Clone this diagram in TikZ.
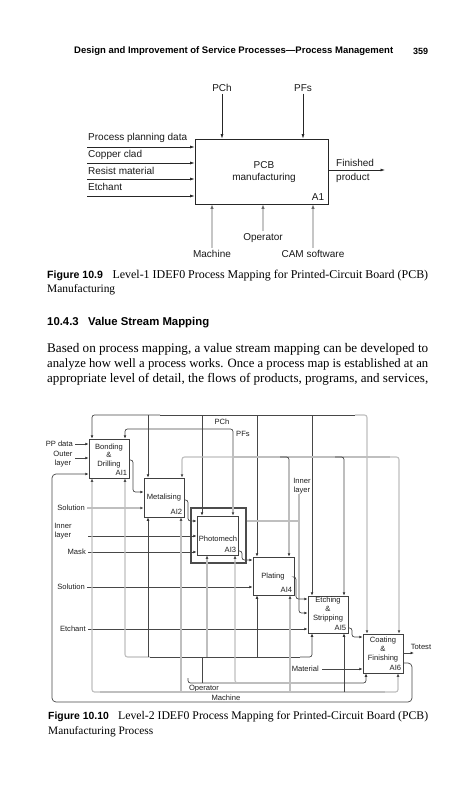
\documentclass[tikz,border=0pt]{standalone}
\usepackage{fontspec}
\usepackage{graphicx}
\setmainfont{Liberation Serif}
\setsansfont{Liberation Sans}
\usetikzlibrary{arrows.meta}
\newcommand\fitline[2]{\resizebox{#1}{!}{#2}}
\begin{document}
\begin{tikzpicture}[x=1pt,y=-1pt,
  every node/.style={inner sep=0pt},
  big/.style={font=\sffamily\fontsize{10}{11.5}\selectfont, text=black!90},
  sm/.style={font=\sffamily\fontsize{7.6}{8.8}\selectfont, text=black!88},
  arr/.style={draw=black!85, line width=0.65pt, -{Latex[length=4.5pt,width=3pt]}},
  garr/.style={draw=gray!45, line width=1.3pt, -{Latex[length=4.5pt,width=3.4pt,color=black!60]}},
  dk/.style={draw=black!72, line width=0.7pt, rounded corners=2.5pt},
  lt/.style={draw=gray!50, line width=1.1pt, rounded corners=2.5pt},
  da/.style={dk, -{Latex[length=3.4pt,width=2.8pt,color=black!80]}},
  la/.style={lt, -{Latex[length=3.4pt,width=2.8pt,color=black!70]}},
  pbox/.style={draw=black!75, line width=0.7pt, minimum width=40pt, minimum height=39pt},
]
\fill[white] (0,0) rectangle (472,800);
\useasboundingbox (0,0) rectangle (472,800);

% ---------- page header ----------
\node[anchor=west] (hdr) at (74,51) {\fitline{319pt}{\sffamily\bfseries\fontsize{9.5}{11}\selectfont Design and Improvement of Service Processes—Process Management}};
\node[anchor=west] (pgno) at (413,51) {\fitline{15pt}{\sffamily\bfseries\fontsize{9.5}{11}\selectfont 359}};

% ---------- Figure 10.9 ----------
\node[draw=black!85, line width=0.8pt, minimum width=133pt, minimum height=65pt] (A1) at (261.5,171.5) {};
\node[big, align=center] (A1t) at (264,172) {PCB\\manufacturing};
\node[big] (A1id) at (318,197) {A1};
\node[big] (pch1) at (222,88) {PCh};
\node[big] (pfs1) at (303,88) {PFs};
\draw[arr, shorten <=2pt] (pch1.south) -- (pch1.south |- A1.north);
\draw[arr, shorten <=2pt] (pfs1.south) -- (pfs1.south |- A1.north);

\coordinate (in1) at (87,147);
\coordinate (in2) at (87,163);
\coordinate (in3) at (87,179);
\coordinate (in4) at (87,196);
\node[big, anchor=west] (l1) at (88,138) {Process planning data};
\node[big, anchor=west] (l2) at (88,155) {Copper clad};
\node[big, anchor=west] (l3) at (88,171) {Resist material};
\node[big, anchor=west] (l4) at (88,187) {Etchant};
\draw[arr] (in1) -- (in1 -| A1.west);
\draw[arr] (in2) -- (in2 -| A1.west);
\draw[arr] (in3) -- (in3 -| A1.west);
\draw[arr] (in4) -- (in4 -| A1.west);

\coordinate (o1) at (385,170);
\draw[arr] (o1 -| A1.east) -- (o1);
\node[big, anchor=west] (fin) at (336,163) {Finished};
\node[big, anchor=west] (prod) at (336,178) {product};

\node[big] (mach1) at (212,254) {Machine};
\node[big] (oper1) at (263,238) {Operator};
\node[big] (cam1) at (313,254) {CAM software};
\draw[garr, shorten <=2pt] (mach1.north) -- (mach1.north |- A1.south);
\draw[garr, shorten <=2pt] (oper1.north) -- (oper1.north |- A1.south);
\draw[garr, shorten <=2pt] (cam1.north) -- (cam1.north |- A1.south);

% ---------- caption / text ----------
\node[anchor=west] (cap1a) at (47,276) {\fitline{381pt}{\sffamily\bfseries\fontsize{10}{12}\selectfont Figure 10.9\hspace{9pt}\rmfamily\mdseries\fontsize{11.3}{13}\selectfont Level-1 IDEF0 Process Mapping for Printed-Circuit Board (PCB)}};
\node[anchor=west] (cap1b) at (47,289.5) {\fitline{68pt}{\rmfamily\fontsize{11.3}{13}\selectfont Manufacturing}};

\node[anchor=west] (sec) at (47,323) {\fitline{162pt}{\sffamily\bfseries\fontsize{11}{13}\selectfont 10.4.3\hspace{9pt}Value Stream Mapping}};

\node[anchor=west] (t1) at (47,349) {\fitline{381pt}{\rmfamily\fontsize{12}{15}\selectfont Based on process mapping, a value stream mapping can be developed to}};
\node[anchor=west] (t2) at (47,364) {\fitline{381pt}{\rmfamily\fontsize{12}{15}\selectfont analyze how well a process works. Once a process map is established at an}};
\node[anchor=west] (t3) at (47,379) {\fitline{381pt}{\rmfamily\fontsize{12}{15}\selectfont appropriate level of detail, the flows of products, programs, and services,}};

% ---------- Figure 10.10 ----------
\node[pbox] (b1) at (109,458.5) {};
\node[pbox] (b2) at (164,497.5) {};
\node[draw=black!70, line width=1.1pt, minimum width=55pt, minimum height=55pt] (b3o) at (218.5,535.5) {};
\node[pbox, minimum width=41pt] (b3) at (217.5,535.5) {};
\node[pbox, minimum width=41pt, minimum height=38pt] (b4) at (273.5,576) {};
\node[pbox, minimum height=37pt] (b5) at (328,614.5) {};
\node[pbox] (b6) at (383,653.5) {};

\node[sm, align=center] (b1t) at (109,456) {Bonding\\\&\\Drilling};
\node[sm] (b2t) at (164,498) {Metalising};
\node[sm] (b3t) at (218,539) {Photomech};
\node[sm] (b4t) at (273,577) {Plating};
\node[sm, align=center] (b5t) at (328,609.5) {Etching\\\&\\Stripping};
\node[sm, align=center] (b6t) at (383,649.5) {Coating\\\&\\Finishing};

\node[sm, anchor=south east] (id1) at ([shift={(-2,-2.5)}]b1.south east) {AI1};
\node[sm, anchor=south east] (id2) at ([shift={(-2,-2.5)}]b2.south east) {AI2};
\node[sm, anchor=south east] (id3) at ([shift={(-2,-2.5)}]b3.south east) {AI3};
\node[sm, anchor=south east] (id4) at ([shift={(-2,-2.5)}]b4.south east) {AI4};
\node[sm, anchor=south east] (id5) at ([shift={(-2,-2.5)}]b5.south east) {AI5};
\node[sm, anchor=south east] (id6) at ([shift={(-2,-2.5)}]b6.south east) {AI6};

% controls: PCh bus
\node[sm] (pch2) at (222,422) {PCh};
\node[sm] (pfs2) at (243,434) {PFs};
\draw[da] (160,415) -| (92,0 |- b1.north);
\draw[dk] (160,415) -- (355,415);
\draw[la] (355,415) -| (367,0 |- b6.north);
\draw[da] (148,415) -- (148,0 |- b2.north);
\draw[da] (202,415) -- (202,0 |- b3.north);
\draw[da] (257,415) -- (257,0 |- b4.north);
\draw[da] (312,415) -- (312,0 |- b5.north);
% PFs
\draw[da] (233,445) |- (125,429) -- (125,0 |- b1.north);
\draw[la] (233,440) -- (233,0 |- b3.north);
\draw[la] (233,457) -| (182,0 |- b2.north);
\draw[lt] (233,457) -- (390,457);
\draw[la] (390,457) -| (399,0 |- b6.north);
\draw[da] (280,457) -| (289,0 |- b4.north);
\draw[da] (335,457) -| (344,0 |- b5.north);

% inner layer from top
\node[sm, align=center] (inl2) at (302,486) {Inner\\layer};
\draw[da] ([xshift=-3pt]inl2.south) |- (b5.west |- 0,613);
\draw[lt] (b3o.east |- 0,521) -- (299,521);

% left inputs
\node[sm, anchor=east] (ppd) at (73,444) {PP data};
\node[sm, align=center] (outl) at (63,459) {Outer\\layer};
\node[sm, anchor=east] (sol1) at (85,508) {Solution};
\node[sm, align=center] (inl1) at (63,531) {Inner\\layer};
\node[sm, anchor=east] (mask) at (86,552) {Mask};
\node[sm, anchor=east] (sol2) at (85,587) {Solution};
\node[sm, anchor=east] (etch) at (86,629) {Etchant};
\coordinate (ol) at (75,458);
\coordinate (il) at (88,536);
\draw[da, shorten <=2pt] (ppd.east) -- (ppd.east -| b1.west);
\draw[da] (ol) -- (ol -| b1.west);
\draw[la, shorten <=2pt] (sol1.east) -- (sol1.east -| b2.west);
\draw[da] (il) -- (il -| b3.west);
\draw[da, shorten <=2pt] (mask.east) -- (mask.east -| b3.west);
\draw[da, shorten <=2pt] (sol2.east) -- (sol2.east -| b4.west);
\draw[da, shorten <=2pt] (etch.east) -- (etch.east -| b5.west);

% flows between activities
\draw[da] (b1.east |- 0,460) -- (133,460) -- (133,492) -- (b2.west |- 0,492);
\draw[da] (b2.east |- 0,500) -- (188,500) -- (188,521) -- (b3.west |- 0,521);
\draw[da] (b3.east |- 0,551) -- (242,551) -- (242,560) -- (b4.west |- 0,560);
\draw[da] (b4.east |- 0,577) -- (296,577) -- (296,599) -- (b5.west |- 0,599);
\draw[da] (b5.east |- 0,628) -- (352,628) -- (352,637) -- (b6.west |- 0,637);
\coordinate (tt) at (414,653);
\draw[da] (b6.east |- tt) -- (tt);
\node[sm] (totest) at (421,647) {Totest};
\draw[da, rounded corners=4pt] (b6.east |- 0,663) -- (412,663) -- (412,702) -- (52,702) -- (52,474) -- (b1.west |- 0,474);

\node[sm, anchor=east] (mat) at (319,669) {Material};
\draw[da, shorten <=3pt] (mat.east) -- (b6.west |- mat.east);

% mechanisms
\draw[la] (150,657) -| (125,0 |- b1.south);
\draw[dk] (150,657) -- (300,657);
\draw[da] (300,657) -| (312,0 |- b5.south);
\draw[da] (148,657) -- (148,0 |- b2.south);
\draw[la] (207,657) -- (207,0 |- b3.south);
\draw[da] (257,657) -- (257,0 |- b4.south);

\draw[dk] (202,657) -- (202,683);
\draw[da] (188,678) |- (355,683) -| (366,0 |- b6.south);
\draw[la] (240,683) -| (235,0 |- b3.south);
\node[sm] (oper2) at (204,689) {Operator};

\draw[la] (100,692) -| (92,0 |- b1.south);
\draw[lt] (100,692) -- (385,692);
\draw[la] (385,692) -| (398,0 |- b6.south);
\draw[la] (181,692) -- (181,0 |- b2.south);
\draw[la] (290,692) -- (290,0 |- b4.south);
\draw[da] (344,692) -- (344,0 |- b5.south);
\node[sm] (mach2) at (226,697.5) {Machine};

% caption 2
\node[anchor=west] (cap2a) at (48,717) {\fitline{380pt}{\sffamily\bfseries\fontsize{10}{12}\selectfont Figure 10.10\hspace{9pt}\rmfamily\mdseries\fontsize{11.3}{13}\selectfont Level-2 IDEF0 Process Mapping for Printed-Circuit Board (PCB)}};
\node[anchor=west] (cap2b) at (48,732) {\fitline{105pt}{\rmfamily\fontsize{11.3}{13}\selectfont Manufacturing Process}};
\end{tikzpicture}
\end{document}
